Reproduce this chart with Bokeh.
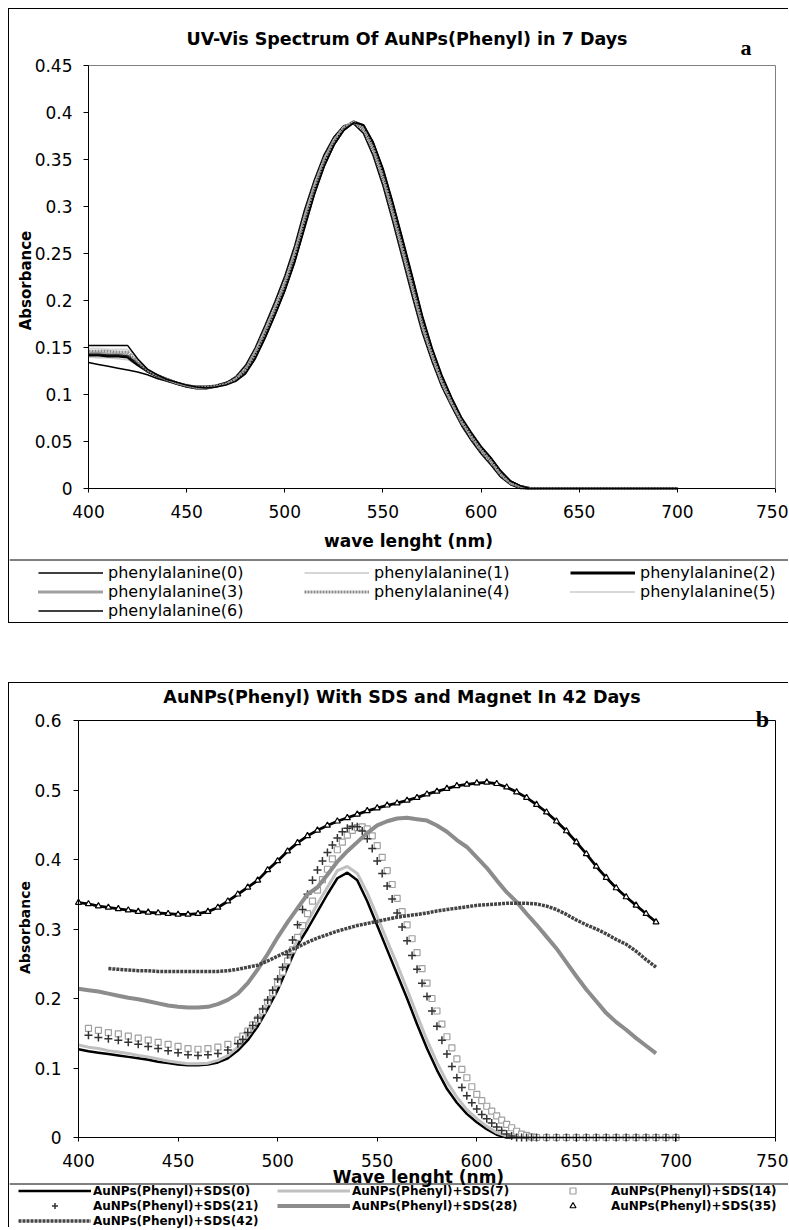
import math
from bokeh.plotting import figure
from bokeh.models import Legend, LegendItem, FixedTicker, Range1d, Label, LinearAxis, Span
from bokeh.layouts import column
from bokeh.embed import file_html
from bokeh.resources import INLINE

SANS = "DejaVu Sans"
SERIF = "Liberation Serif"

# ------------------------------------------------------------------ data (a)
TITLE_A = "UV-Vis Spectrum Of AuNPs(Phenyl) in 7 Days"
XLABEL_A = "wave lenght (nm)"
YLABEL = "Absorbance"
X_TICKS = [400, 450, 500, 550, 600, 650, 700, 750]
X_TICK_LABELS = ["400", "450", "500", "550", "600", "650", "700", "750"]
Y_TICKS_A = [0, 0.05, 0.1, 0.15, 0.2, 0.25, 0.3, 0.35, 0.4, 0.45]
Y_TICK_LABELS_A = ["0", "0.05", "0.1", "0.15", "0.2", "0.25", "0.3", "0.35", "0.4", "0.45"]
NAMES_A = ["phenylalanine(0)", "phenylalanine(1)", "phenylalanine(2)", "phenylalanine(3)",
           "phenylalanine(4)", "phenylalanine(5)", "phenylalanine(6)"]

WL_A = [400, 405, 410, 415, 420, 425, 430, 435, 440, 445, 450, 455, 460, 465, 470, 475,
        480, 485, 490, 495, 500, 505, 510, 515, 520, 525, 530, 535, 540, 545, 550, 555,
        560, 565, 570, 575, 580, 585, 590, 595, 600, 605, 610, 615, 620, 625, 700]

PHE_0 = [0.134, 0.132, 0.130, 0.128, 0.126, 0.124, 0.121, 0.117, 0.114, 0.111, 0.108, 0.106,
         0.106, 0.108, 0.112, 0.119, 0.131, 0.150, 0.174, 0.199, 0.226, 0.258, 0.296, 0.328,
         0.355, 0.374, 0.386, 0.388, 0.378, 0.354, 0.322, 0.284, 0.244, 0.204, 0.166, 0.135,
         0.108, 0.087, 0.067, 0.051, 0.037, 0.025, 0.012, 0.004, 0.000, 0.000, 0.000]
PHE_1 = [0.140, 0.139, 0.139, 0.138, 0.137, 0.131, 0.124, 0.119, 0.115, 0.112, 0.109, 0.107,
         0.107, 0.108, 0.111, 0.117, 0.127, 0.145, 0.168, 0.192, 0.218, 0.250, 0.288, 0.322,
         0.350, 0.370, 0.384, 0.389, 0.382, 0.360, 0.330, 0.292, 0.252, 0.212, 0.172, 0.140,
         0.112, 0.090, 0.070, 0.054, 0.040, 0.028, 0.014, 0.005, 0.001, 0.000, 0.000]
PHE_2 = [0.142, 0.142, 0.141, 0.141, 0.140, 0.132, 0.125, 0.120, 0.116, 0.112, 0.109, 0.108,
         0.108, 0.109, 0.112, 0.116, 0.125, 0.141, 0.163, 0.187, 0.213, 0.244, 0.281, 0.316,
         0.345, 0.367, 0.382, 0.390, 0.386, 0.366, 0.337, 0.300, 0.261, 0.221, 0.180, 0.146,
         0.117, 0.094, 0.073, 0.057, 0.043, 0.031, 0.017, 0.007, 0.002, 0.000, 0.000]
PHE_3 = [0.144, 0.144, 0.143, 0.143, 0.142, 0.134, 0.125, 0.120, 0.115, 0.112, 0.109, 0.107,
         0.107, 0.109, 0.112, 0.118, 0.128, 0.147, 0.170, 0.195, 0.221, 0.253, 0.291, 0.324,
         0.351, 0.371, 0.385, 0.389, 0.381, 0.358, 0.327, 0.289, 0.249, 0.209, 0.170, 0.139,
         0.111, 0.089, 0.069, 0.053, 0.039, 0.027, 0.014, 0.005, 0.001, 0.000, 0.000]
PHE_4 = [0.146, 0.146, 0.146, 0.145, 0.145, 0.135, 0.126, 0.120, 0.116, 0.112, 0.110, 0.108,
         0.108, 0.109, 0.111, 0.116, 0.126, 0.143, 0.166, 0.190, 0.216, 0.248, 0.285, 0.319,
         0.348, 0.369, 0.384, 0.390, 0.384, 0.363, 0.333, 0.296, 0.256, 0.216, 0.176, 0.143,
         0.115, 0.092, 0.072, 0.056, 0.042, 0.030, 0.016, 0.006, 0.002, 0.000, 0.000]
PHE_5 = [0.149, 0.149, 0.148, 0.148, 0.148, 0.137, 0.127, 0.121, 0.116, 0.112, 0.109, 0.107,
         0.107, 0.108, 0.111, 0.117, 0.127, 0.146, 0.169, 0.193, 0.219, 0.251, 0.289, 0.323,
         0.351, 0.371, 0.385, 0.390, 0.383, 0.361, 0.331, 0.293, 0.253, 0.213, 0.173, 0.141,
         0.113, 0.091, 0.071, 0.055, 0.041, 0.029, 0.015, 0.006, 0.002, 0.000, 0.000]
PHE_6 = [0.152, 0.152, 0.152, 0.152, 0.152, 0.138, 0.127, 0.121, 0.116, 0.113, 0.110, 0.108,
         0.107, 0.108, 0.110, 0.114, 0.122, 0.138, 0.160, 0.184, 0.210, 0.240, 0.276, 0.312,
         0.342, 0.365, 0.381, 0.389, 0.387, 0.369, 0.341, 0.305, 0.266, 0.226, 0.185, 0.150,
         0.121, 0.097, 0.076, 0.060, 0.045, 0.033, 0.019, 0.008, 0.003, 0.000, 0.000]

# ------------------------------------------------------------------ data (b)
TITLE_B = "AuNPs(Phenyl) With SDS and Magnet In 42 Days"
XLABEL_B = "Wave lenght (nm)"
Y_TICKS_B = [0, 0.1, 0.2, 0.3, 0.4, 0.5, 0.6]
Y_TICK_LABELS_B = ["0", "0.1", "0.2", "0.3", "0.4", "0.5", "0.6"]
NAMES_B = ["AuNPs(Phenyl)+SDS(0)", "AuNPs(Phenyl)+SDS(7)", "AuNPs(Phenyl)+SDS(14)",
           "AuNPs(Phenyl)+SDS(21)", "AuNPs(Phenyl)+SDS(28)", "AuNPs(Phenyl)+SDS(35)",
           "AuNPs(Phenyl)+SDS(42)"]

WL_B = [400, 405, 410, 415, 420, 425, 430, 435, 440, 445, 450, 455, 460, 465, 470, 475,
        480, 485, 490, 495, 500, 505, 510, 515, 520, 525, 530, 535, 540, 545, 550, 555,
        560, 565, 570, 575, 580, 585, 590, 595, 600, 605, 610, 615, 620, 625, 630, 635,
        640, 645, 650, 655, 660, 665, 670, 675, 680, 685, 690, 695, 700]
SDS_0 = [0.127, 0.124, 0.122, 0.120, 0.118, 0.116, 0.114, 0.112, 0.109, 0.107, 0.105, 0.104,
         0.104, 0.105, 0.108, 0.114, 0.125, 0.140, 0.160, 0.185, 0.212, 0.245, 0.277, 0.300,
         0.325, 0.350, 0.373, 0.381, 0.370, 0.340, 0.305, 0.270, 0.235, 0.200, 0.163, 0.128,
         0.097, 0.070, 0.050, 0.034, 0.022, 0.012, 0.004, 0.000, 0.000, 0.000, 0.000, 0.000,
         0.000, 0.000, 0.000, 0.000, 0.000, 0.000, 0.000, 0.000, 0.000, 0.000, 0.000, 0.000, 0.000]
SDS_7 = [0.133, 0.130, 0.128, 0.125, 0.123, 0.121, 0.118, 0.116, 0.113, 0.110, 0.108, 0.106,
         0.106, 0.107, 0.111, 0.118, 0.130, 0.146, 0.167, 0.193, 0.222, 0.254, 0.285, 0.310,
         0.336, 0.360, 0.384, 0.390, 0.380, 0.352, 0.318, 0.283, 0.249, 0.213, 0.176, 0.140,
         0.108, 0.080, 0.058, 0.040, 0.027, 0.016, 0.007, 0.002, 0.000, 0.000, 0.000, 0.000,
         0.000, 0.000, 0.000, 0.000, 0.000, 0.000, 0.000, 0.000, 0.000, 0.000, 0.000, 0.000, 0.000]

WL_BM = [405, 410, 415, 420, 425, 430, 435, 440, 445, 450, 455, 460, 465, 470, 475,
         480, 482.5, 485, 487.5, 490, 492.5, 495, 497.5, 500, 502.5,
         505, 507.5, 510, 512.5, 515, 517.5, 520, 522.5, 525, 527.5,
         530, 532.5, 535, 537.5, 540, 542.5, 545, 547.5, 550, 552.5,
         555, 557.5, 560, 562.5, 565, 567.5, 570, 572.5, 575, 577.5,
         580, 582.5, 585, 587.5, 590, 592.5, 595, 597.5, 600, 602.5,
         605, 607.5, 610, 612.5, 615, 617.5, 620, 622.5, 625, 627.5,
         630, 635, 640, 645, 650, 655, 660, 665, 670, 675, 680, 685, 690, 695, 700]
SDS_14 = [0.157, 0.154, 0.151, 0.149, 0.146, 0.143, 0.140, 0.137, 0.134, 0.131, 0.128, 0.127, 0.128, 0.130, 0.134,
          0.140, 0.146, 0.153, 0.162, 0.170, 0.182, 0.195, 0.208, 0.222, 0.238,
          0.254, 0.270, 0.288, 0.305, 0.322, 0.340, 0.356, 0.371, 0.386, 0.401,
          0.414, 0.425, 0.435, 0.442, 0.446, 0.447, 0.444, 0.434, 0.420, 0.403,
          0.384, 0.364, 0.344, 0.325, 0.306, 0.286, 0.266, 0.243, 0.222, 0.200,
          0.182, 0.163, 0.145, 0.129, 0.113, 0.098, 0.086, 0.073, 0.062, 0.053,
          0.045, 0.038, 0.031, 0.025, 0.019, 0.014, 0.009, 0.005, 0.003, 0.001,
          0.000, 0.000, 0.000, 0.000, 0.000, 0.000, 0.000, 0.000, 0.000, 0.000, 0.000, 0.000, 0.000, 0.000, 0.000]
SDS_21 = [0.147, 0.144, 0.142, 0.140, 0.137, 0.134, 0.131, 0.128, 0.125, 0.122, 0.119, 0.118, 0.119, 0.121, 0.126,
          0.135, 0.141, 0.151, 0.161, 0.172, 0.185, 0.198, 0.212, 0.228, 0.245,
          0.263, 0.284, 0.306, 0.328, 0.350, 0.370, 0.385, 0.398, 0.410, 0.421,
          0.431, 0.440, 0.445, 0.448, 0.447, 0.441, 0.430, 0.416, 0.398, 0.380,
          0.362, 0.343, 0.323, 0.303, 0.283, 0.262, 0.242, 0.222, 0.203, 0.182,
          0.160, 0.140, 0.120, 0.102, 0.086, 0.072, 0.060, 0.050, 0.041, 0.033,
          0.027, 0.021, 0.015, 0.010, 0.005, 0.002, 0.000, 0.000, 0.000, 0.000,
          0.000, 0.000, 0.000, 0.000, 0.000, 0.000, 0.000, 0.000, 0.000, 0.000, 0.000, 0.000, 0.000, 0.000, 0.000]

WL_B2 = [400, 405, 410, 415, 420, 425, 430, 435, 440, 445, 450, 455, 460, 465, 470, 475,
         480, 485, 490, 495, 500, 505, 510, 515, 520, 525, 530, 535, 540, 545, 550, 555,
         560, 565, 570, 575, 580, 585, 590, 595, 600, 605, 610, 615, 620, 625, 630, 635,
         640, 645, 650, 655, 660, 665, 670, 675, 680, 685, 690]
SDS_28 = [0.214, 0.212, 0.210, 0.207, 0.204, 0.201, 0.199, 0.196, 0.193, 0.190, 0.188, 0.187,
          0.187, 0.188, 0.192, 0.198, 0.207, 0.222, 0.242, 0.264, 0.288, 0.310, 0.330, 0.350,
          0.360, 0.378, 0.397, 0.412, 0.425, 0.438, 0.449, 0.455, 0.459, 0.460, 0.458, 0.456,
          0.449, 0.440, 0.428, 0.418, 0.403, 0.388, 0.370, 0.353, 0.339, 0.322, 0.306, 0.289,
          0.272, 0.252, 0.232, 0.213, 0.196, 0.179, 0.166, 0.155, 0.143, 0.132, 0.121]
SDS_35 = [0.338, 0.336, 0.333, 0.331, 0.329, 0.327, 0.325, 0.324, 0.323, 0.322, 0.321, 0.321,
          0.322, 0.325, 0.331, 0.340, 0.350, 0.360, 0.370, 0.385, 0.398, 0.412, 0.424, 0.434,
          0.442, 0.449, 0.455, 0.460, 0.465, 0.470, 0.474, 0.478, 0.481, 0.485, 0.489, 0.494,
          0.498, 0.502, 0.506, 0.508, 0.510, 0.511, 0.509, 0.504, 0.497, 0.489, 0.479, 0.468,
          0.455, 0.441, 0.425, 0.408, 0.390, 0.374, 0.359, 0.346, 0.334, 0.322, 0.310]

WL_B42 = [415, 420, 425, 430, 435, 440, 445, 450, 455, 460, 465, 470, 475, 480, 485, 490,
          495, 500, 505, 510, 515, 520, 525, 530, 535, 540, 545, 550, 555, 560, 565, 570,
          575, 580, 585, 590, 595, 600, 605, 610, 615, 620, 625, 630, 635, 640, 645, 650,
          655, 660, 665, 670, 675, 680, 685, 690]
SDS_42 = [0.243, 0.242, 0.241, 0.240, 0.240, 0.239, 0.239, 0.239, 0.239, 0.239, 0.239, 0.239,
          0.240, 0.242, 0.245, 0.248, 0.254, 0.261, 0.268, 0.274, 0.281, 0.287, 0.292, 0.297,
          0.301, 0.305, 0.308, 0.311, 0.314, 0.317, 0.319, 0.321, 0.323, 0.326, 0.328, 0.330,
          0.332, 0.334, 0.335, 0.336, 0.337, 0.337, 0.337, 0.336, 0.333, 0.328, 0.321, 0.313,
          0.306, 0.300, 0.293, 0.285, 0.278, 0.268, 0.256, 0.245]

# ------------------------------------------------------------------ layout (page pixels)
CANVAS_W = 780


class Mapper:
    """Maps page pixels to data coordinates for a chart whose frame covers the whole canvas."""
    def __init__(self, canvas_x0, canvas_y0, canvas_h, left, right, top, bottom, x0, x1, y0, y1):
        self.kx = (x1 - x0) / (right - left)
        self.ky = (y1 - y0) / (bottom - top)
        self.left, self.bottom, self.x0, self.y0 = left, bottom, x0, y0
        self.x_range = Range1d(self.x(canvas_x0), self.x(canvas_x0 + CANVAS_W))
        self.y_range = Range1d(self.y(canvas_y0 + canvas_h), self.y(canvas_y0))

    def x(self, px):
        return self.x0 + (px - self.left) * self.kx

    def y(self, py):
        return self.y0 + (self.bottom - py) * self.ky


def make_fig(m, h, borders):
    p = figure(width=CANVAS_W, height=h, x_range=m.x_range, y_range=m.y_range,
               output_backend="svg", toolbar_location=None, min_border=0,
               background_fill_color="white", border_fill_color="white",
               outline_line_color=None,
               styles={k: "1px solid black" for k in borders})
    p.xgrid.visible = False
    p.ygrid.visible = False
    return p


def style_axes(p, y_ticks, y_labels, y_max, x_standoff, y_standoff, frame_color):
    xa = p.xaxis[0]
    ya = p.yaxis[0]
    xa.fixed_location = 0
    xa.bounds = (400, 750)
    ya.fixed_location = 400
    ya.bounds = (0, y_max)
    xa.ticker = FixedTicker(ticks=X_TICKS)
    xa.major_label_overrides = dict(zip(X_TICKS, X_TICK_LABELS))
    ya.ticker = FixedTicker(ticks=y_ticks)
    ya.major_label_overrides = dict(zip(y_ticks, y_labels))
    for ax in (xa, ya):
        ax.axis_line_color = "black"
        ax.major_tick_line_color = "black"
        ax.minor_tick_line_color = None
        ax.major_tick_in = 0
        ax.major_label_text_font = SANS
        ax.major_label_text_font_size = "17px"
        ax.major_label_text_color = "black"
    xa.major_tick_out = 4
    ya.major_tick_out = 5
    xa.major_label_standoff = x_standoff
    ya.major_label_standoff = y_standoff
    top = LinearAxis(fixed_location=y_max, bounds=(400, 750), ticker=FixedTicker(ticks=[]),
                     axis_line_color=frame_color, major_tick_line_color=None,
                     minor_tick_line_color=None)
    right = LinearAxis(fixed_location=750, bounds=(0, y_max), ticker=FixedTicker(ticks=[]),
                       axis_line_color=frame_color, major_tick_line_color=None,
                       minor_tick_line_color=None)
    p.add_layout(top, "above")
    p.add_layout(right, "right")


def text(p, x, y, s, size, bold=True, font=SANS, align="center", baseline="middle", angle=0.0):
    p.add_layout(Label(x=x, y=y, text=s, text_font=font, text_font_size=size,
                       text_font_style="bold" if bold else "normal", text_color="black",
                       text_align=align, text_baseline=baseline, angle=angle))


# ------------------------------------------------------------------ chart (a)
ma = Mapper(9, 9, 615, 88, 775, 65, 488, 400, 750, 0, 0.45)
pa = make_fig(ma, 615, ["border-left", "border-top", "border-bottom"])
style_axes(pa, Y_TICKS_A, Y_TICK_LABELS_A, 0.45, 12, 11, "#808080")

styles_a = [
    dict(line_color="black", line_width=1.5),
    dict(line_color="#c8c8c8", line_width=1.5),
    dict(line_color="black", line_width=3.2),
    dict(line_color="#404040", line_width=2.8, line_dash="1 1"),
    dict(line_color="#8a8a8a", line_width=2.8, line_dash="2 1"),
    dict(line_color="#b0b0b0", line_width=2.0, line_dash="1 1"),
    dict(line_color="black", line_width=1.5),
]
series_a = [PHE_0, PHE_1, PHE_2, PHE_3, PHE_4, PHE_5, PHE_6]
rends_a = [pa.line(WL_A, ys, **st) for ys, st in zip(series_a, styles_a)]

text(pa, ma.x(406.5), ma.y(38), TITLE_A, "17.5px")
text(pa, ma.x(745.5), ma.y(46.7), "a", "22px", font=SERIF, baseline="alphabetic")
text(pa, ma.x(408), ma.y(540), XLABEL_A, "17px")
text(pa, ma.x(25), ma.y(280), YLABEL, "15px", angle=math.pi / 2)
pa.add_layout(Span(location=ma.y(559.5), dimension="width", line_color="black", line_width=1))

leg_a = Legend(items=[LegendItem(label=n, renderers=[r]) for n, r in zip(NAMES_A, rends_a)],
               orientation="horizontal", ncols=3, location=(29, 4),
               padding=0, spacing=0, margin=0,
               glyph_width=65, glyph_height=19, label_height=19, label_width=196, label_standoff=5,
               label_text_font=SANS, label_text_font_size="16px", label_text_color="black",
               border_line_color=None, background_fill_alpha=0.0)
pa.add_layout(leg_a, "center")

# ------------------------------------------------------------------ chart (b)
mb = Mapper(9, 685, 545, 78, 775, 722, 1139, 400, 750, 0, 0.6)
pb = make_fig(mb, 545, ["border-left", "border-top"])
style_axes(pb, Y_TICKS_B, Y_TICK_LABELS_B, 0.6, 12, 12, "black")

r0 = pb.line(WL_B, SDS_0, line_color="black", line_width=2.5)
r7 = pb.line(WL_B, SDS_7, line_color="#c0c0c0", line_width=3)
r14 = pb.scatter(WL_BM, SDS_14, marker="square", size=6, line_color="#a0a0a0",
                 fill_color="white", line_width=1.2)
r21 = pb.scatter(WL_BM, SDS_21, marker="cross", size=8, line_color="#333333", line_width=1.5)
r28 = pb.line(WL_B2, SDS_28, line_color="#8c8c8c", line_width=4)
pb.line(WL_B2, SDS_35, line_color="black", line_width=2.8)
r35 = pb.scatter(WL_B2, SDS_35, marker="triangle", size=6, line_color="black",
                 fill_color="white", line_width=1.2)
r42 = pb.line(WL_B42, SDS_42, line_color="#444444", line_width=3.5, line_dash="3 1")
rends_b = [r0, r7, r14, r21, r28, r35, r42]

text(pb, mb.x(401.5), mb.y(698), TITLE_B, "17.5px")
text(pb, mb.x(762), mb.y(720), "b", "24px", font=SERIF, baseline="alphabetic")
text(pb, mb.x(418), mb.y(1178), XLABEL_B, "17px")
text(pb, mb.x(24), mb.y(929), YLABEL, "14px", angle=math.pi / 2)
pb.add_layout(Span(location=mb.y(1185.5), dimension="width", line_color="black", line_width=1))

leg_b = Legend(items=[LegendItem(label=n, renderers=[r]) for n, r in zip(NAMES_B, rends_b)],
               orientation="horizontal", ncols=3, location=(9, 0),
               padding=0, spacing=0, margin=0,
               glyph_width=73, glyph_height=15, label_height=15, label_width=184, label_standoff=2,
               label_text_font=SANS, label_text_font_size="12px", label_text_font_style="bold",
               label_text_color="black",
               border_line_color=None, background_fill_alpha=0.0)
pb.add_layout(leg_b, "center")

layout = column(pa, pb, spacing=59, margin=(8, 0, 0, 8))
open("out.html", "w").write(file_html(layout, INLINE))
